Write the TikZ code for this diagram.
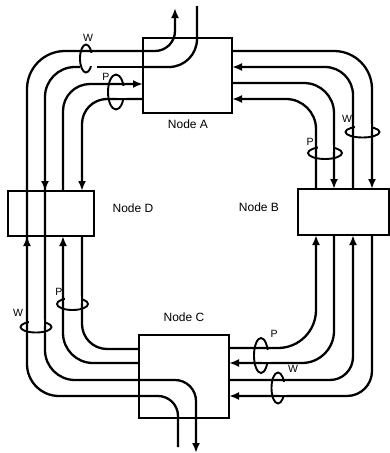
\documentclass[tikz,border=0pt]{standalone}
\usepackage{fontspec}
\setmainfont{Liberation Sans}
\usetikzlibrary{arrows.meta}
\newcommand\ringH[6]{% cx cy rx ry y1 y2 (ring around horizontal wires)
  \draw[ringline] (#1,#2) ellipse [x radius=#3pt, y radius=#4pt];
  \fill[white] (#1+0.8,#5+1.5) rectangle (#1+#3+2.5,#6-1.5);}
\newcommand\ringV[6]{% cx cy rx ry x1 x2 (ring around vertical wires)
  \draw[ringline] (#1,#2) ellipse [x radius=#3pt, y radius=#4pt];
  \fill[white] (#5+1.5,#2-#4-2.5) rectangle (#6-1.5,#2-0.8);}
\begin{document}
\begin{tikzpicture}[x=1pt,y=-1pt,
  wire/.style={line width=2.3pt},
  tip/.style={-{Latex[length=10pt,width=8pt]}},
  box/.style={draw, line width=1.8pt, inner sep=0pt, outer sep=0pt},
  ringline/.style={line width=1.9pt},
  lbl/.style={font=\fontsize{12}{13}\selectfont},
  tag/.style={font=\fontsize{10.5}{11}\selectfont, inner sep=0pt}]
\useasboundingbox (0,0) rectangle (390,453);

% nodes
\node[box, minimum width=89pt, minimum height=75pt] (A) at (187.5,75.5) {};
\node[box, minimum width=91pt, minimum height=46pt] (B) at (343.5,212) {};
\node[box, minimum width=90pt, minimum height=83pt] (C) at (184,376.5) {};
\node[box, minimum width=86pt, minimum height=45pt] (D) at (51,213.5) {};

\node[lbl] (la) at (188,124) {Node A};
\node[lbl] (lb) at (259,207) {Node B};
\node[lbl] (lc) at (184,317) {Node C};
\node[lbl] (ld) at (133,208) {Node D};

% coordinates for external ends
\coordinate (Aout) at (175,8);
\coordinate (Ain) at (197,6);
\coordinate (Cout) at (196,453);
\coordinate (Cin) at (178,447);

% ---------- left side ----------
\draw[wire, rounded corners=38pt] (A.west |- 0,51) -- (27,51) -- (27,213);
\draw[wire, rounded corners=32pt] (27,213) -- (27,396) -- (C.west |- 0,396);
\draw[wire, tip] (27,250) -- (27,0 |- D.south);
\draw[wire, tip, rounded corners=20pt] (A.west |- 0,51) -| (Aout);
\draw[wire, rounded corners=20pt] (C.west |- 0,396) -| (Cin);

\draw[wire] (A.west |- 0,67) -- (97,67);
\draw[wire, rounded corners=30pt] (80,67) -- (45,67) -- (45,213);
\draw[wire, rounded corners=30pt] (45,213) -- (45,380) -- (C.west |- 0,380);
\draw[wire, tip] (45,176) -- (45,0 |- D.north);
\draw[wire, rounded corners=28pt] (Ain) |- (A.west |- 0,67);
\draw[wire, tip, rounded corners=21pt] (C.west |- 0,380) -| (Cout);

\draw[wire, tip, rounded corners=27pt] (63,0 |- D.north) -- (63,84) -- (A.west |- 0,84);
\draw[wire, tip, rounded corners=30pt] (C.west |- 0,363) -- (63,363) -- (63,0 |- D.south);
\draw[wire, tip, rounded corners=25pt] (A.west |- 0,99) -- (82,99) -- (82,0 |- D.north);
\draw[wire, rounded corners=25pt] (82,0 |- D.south) -- (82,349) -- (C.west |- 0,349);

% ---------- right side ----------
\draw[wire, tip, rounded corners=38pt] (A.east |- 0,51) -- (372,51) -- (372,0 |- B.north);
\draw[wire, tip, rounded corners=25pt] (372,0 |- B.south) -- (372,396) -- (C.east |- 0,396);
\draw[wire, tip, rounded corners=28pt] (353,0 |- B.north) -- (353,67) -- (A.east |- 0,67);
\draw[wire, tip, rounded corners=23pt] (C.east |- 0,380) -- (353,380) -- (353,0 |- B.south);
\draw[wire, tip, rounded corners=30pt] (A.east |- 0,83) -- (334,83) -- (334,0 |- B.north);
\draw[wire, tip, rounded corners=32pt] (334,0 |- B.south) -- (334,363) -- (C.east |- 0,363);
\draw[wire, tip, rounded corners=30pt] (316,0 |- B.north) -- (316,99) -- (A.east |- 0,99);
\draw[wire, tip, rounded corners=38pt] (C.east |- 0,348) -- (316,348) -- (316,0 |- B.south);

% ---------- rings ----------
\ringH{86}{58.5}{6}{14}{51}{67}
\ringH{116}{92}{8}{17.5}{84}{99}
\ringV{362.5}{132}{17}{5.5}{353}{372}
\ringV{325}{153}{17}{6}{316}{334}
\ringV{72.5}{304}{15.5}{6}{63}{82}
\ringV{36}{327}{15.5}{5.5}{27}{45}
\ringH{261}{355.5}{7}{17.5}{348}{363}
\ringH{278}{388}{6.5}{15.5}{380}{396}

% ring labels
\node[tag] (tw1) at (88,38) {W};
\node[tag] (tp1) at (106,77) {P};
\node[tag] (tw2) at (347,119) {W};
\node[tag] (tp2) at (310,142) {P};
\node[tag] (tp3) at (59,292) {P};
\node[tag] (tw3) at (18,313) {W};
\node[tag] (tp4) at (274,334) {P};
\node[tag] (tw4) at (293,369) {W};
\end{tikzpicture}
\end{document}
